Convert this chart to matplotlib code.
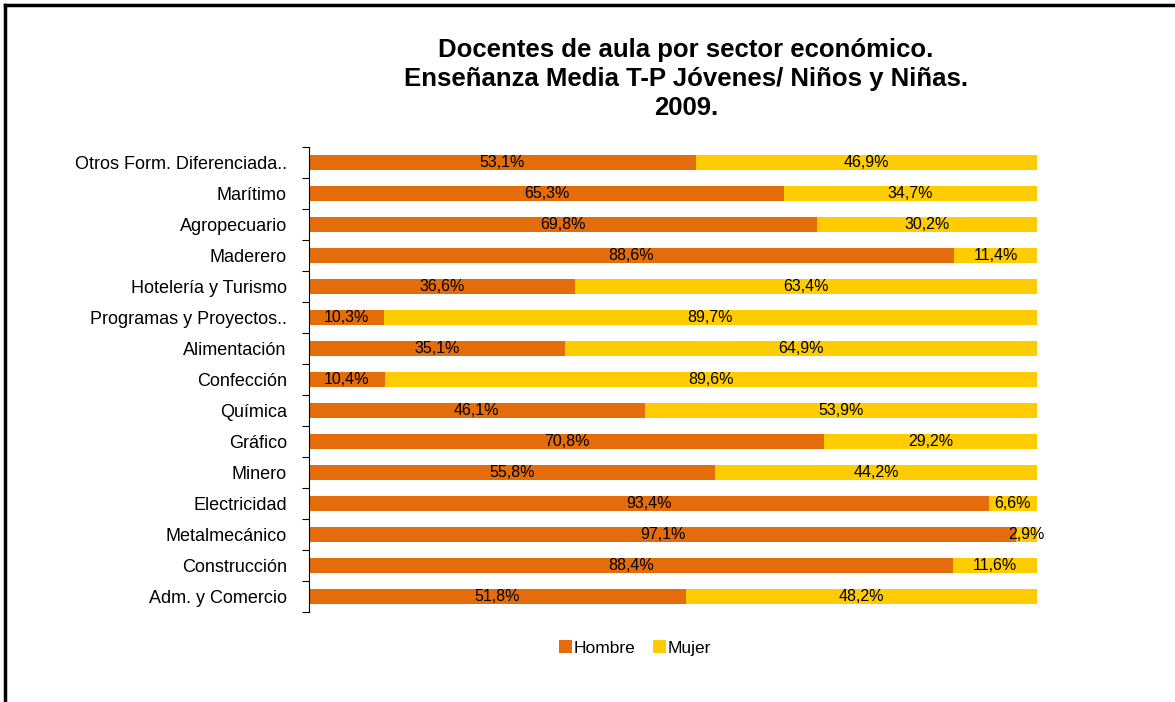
import matplotlib.pyplot as plt
from matplotlib.lines import Line2D
import numpy as np

plt.rcParams['font.family'] = ['Liberation Sans', 'DejaVu Sans']

# Data (bottom to top)
sectors = ['Adm. y Comercio', 'Construcción', 'Metalmecánico', 'Electricidad', 'Minero',
           'Gráfico', 'Química', 'Confección', 'Alimentación', 'Programas y Proyectos..',
           'Hotelería y Turismo', 'Maderero', 'Agropecuario', 'Marítimo',
           'Otros Form. Diferenciada..']
hombre = [51.8, 88.4, 97.1, 93.4, 55.8, 70.8, 46.1, 10.4, 35.1, 10.3, 36.6, 88.6, 69.8, 65.3, 53.1]
mujer = [48.2, 11.6, 2.9, 6.6, 44.2, 29.2, 53.9, 89.6, 64.9, 89.7, 63.4, 11.4, 30.2, 34.7, 46.9]

c_h = '#E46C0A'
c_m = '#FFCC00'

fig = plt.figure(figsize=(11.75, 7.02), dpi=100)
ax = fig.add_axes([309 / 1175, 1 - 612 / 702, 728 / 1175, 465 / 702])

y = np.arange(len(sectors))
h = np.array(hombre)
m = np.array(mujer)
bh = ax.barh(y, h, height=0.5, color=c_h, label='Hombre')
bm = ax.barh(y, m, left=h, height=0.5, color=c_m, label='Mujer')

def fmt(v):
    return f'{v:.1f}%'.replace('.', ',')

for yi, hv, mv in zip(y, h, m):
    ax.text(hv / 2, yi, fmt(hv), ha='center', va='center', fontsize=11.5, color='black')
    ax.text(hv + mv / 2, yi, fmt(mv), ha='center', va='center', fontsize=11.5, color='black')

ax.set_xlim(0, 100)
ax.set_ylim(-0.5, len(sectors) - 0.5)
ax.set_xticks([])
ax.set_yticks(y)
ax.set_yticklabels(sectors, fontsize=13)
ax.tick_params(axis='y', which='major', length=0, pad=16)
ax.set_yticks(np.arange(-0.5, len(sectors), 1.0), minor=True)
ax.tick_params(axis='y', which='minor', length=5, direction='out', width=0.8)
for s in ['top', 'right', 'bottom']:
    ax.spines[s].set_visible(False)
ax.spines['left'].set_linewidth(0.8)

fig.text(686 / 1175, 1 - 79 / 702,
         'Docentes de aula por sector económico.\nEnseñanza Media T-P Jóvenes/ Niños y Niñas.\n2009.',
         ha='center', va='center', fontsize=18.5, fontweight='bold', linespacing=1.28)

fig.legend(handles=[bh, bm], labels=['Hombre', 'Mujer'], loc='center',
           bbox_to_anchor=(635 / 1175, 1 - 648 / 702), ncol=2, frameon=False,
           fontsize=12.5, handlelength=0.75, handleheight=0.75, handletextpad=0.1,
           columnspacing=1.0)

# chart frame (top and left edges visible)
fig.add_artist(Line2D([5 / 1175, 1.0], [1 - 5 / 702, 1 - 5 / 702], color='black', lw=2.5))
fig.add_artist(Line2D([5 / 1175, 5 / 1175], [0.0, 1 - 5 / 702], color='black', lw=2.5))

fig.savefig('out.png', dpi=100)
